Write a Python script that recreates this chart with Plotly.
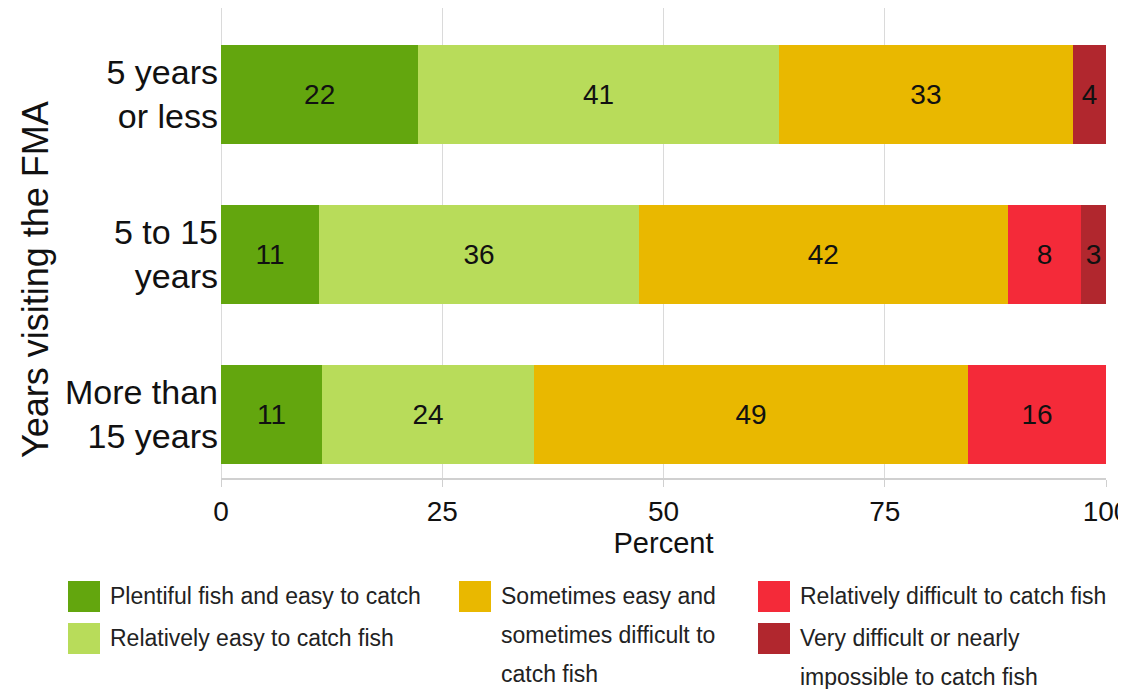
import plotly.graph_objects as go

# categories listed bottom to top
categories = ["More than<br>15 years", "5 to 15<br>years", "5 years<br>or less"]

series_names = [
    "Plentiful fish and easy to catch",
    "Relatively easy to catch fish",
    "Sometimes easy and sometimes difficult to catch fish",
    "Relatively difficult to catch fish",
    "Very difficult or nearly impossible to catch fish",
]
plentiful = [11.4, 11.1, 22.3]
relatively_easy = [24.0, 36.1, 40.7]
sometimes = [49.0, 41.7, 33.3]
relatively_difficult = [15.6, 8.3, None]
very_difficult = [None, 2.8, 3.7]

x_ticks = [0, 25, 50, 75, 100]

# legend text as wrapped in the picture
legend_lines = [
    ["Plentiful fish and easy to catch"],
    ["Relatively easy to catch fish"],
    ["Sometimes easy and", "sometimes difficult to", "catch fish"],
    ["Relatively difficult to catch fish"],
    ["Very difficult or nearly", "impossible to catch fish"],
]

colors = ["#63A60E", "#B8DC5A", "#E9B800", "#F42A39", "#B1272E"]
FONT = "Arial, Liberation Sans, sans-serif"

# page body adds an 8px offset top/left
OFF = 8
W, H = 1126 - OFF, 689 - OFF
L, R, T, B = 213, 20, 0, 211
pw, ph = W - L - R, H - T - B


def px(x):
    # screen x -> paper
    return (x - OFF - L) / pw


def py(y):
    # screen y -> paper
    return (T + ph - (y - OFF)) / ph


fig = go.Figure()
all_series = [plentiful, relatively_easy, sometimes, relatively_difficult, very_difficult]
for name, vals, col in zip(series_names, all_series, colors):
    fig.add_trace(go.Bar(
        y=categories, x=vals, name=name, orientation="h",
        marker=dict(color=col, line=dict(width=0)),
        width=0.62,
        texttemplate="%{x:.0f}", textposition="inside",
        insidetextanchor="middle", constraintext="none", textangle=0,
        textfont=dict(family=FONT, size=28, color="#111111"),
        showlegend=False,
    ))

# hand-made legend in three columns
legend_pos = [(68, 581), (68, 623), (459, 581), (758, 581), (758, 623)]
shapes = []
annotations = []
for (x0, y0), lines, col in zip(legend_pos, legend_lines, colors):
    shapes.append(dict(type="rect", xref="paper", yref="paper",
                       x0=px(x0), x1=px(x0 + 32), y0=py(y0), y1=py(y0 + 31),
                       fillcolor=col, line=dict(width=0)))
    for i, line in enumerate(lines):
        annotations.append(dict(xref="paper", yref="paper", x=px(x0 + 40), y=py(y0 + 15 + 39 * i),
                                text=line, showarrow=False, xanchor="left", yanchor="middle",
                                font=dict(family=FONT, size=23, color="#222222")))

annotations.append(dict(xref="paper", yref="paper", x=px(35), y=py(280),
                        text="Years visiting the FMA", textangle=-90, showarrow=False,
                        xanchor="center", yanchor="middle",
                        font=dict(family=FONT, size=36, color="#111111")))

fig.update_layout(
    barmode="stack",
    width=W, height=H,
    margin=dict(l=L, r=R, t=T, b=B, autoexpand=False),
    paper_bgcolor="white", plot_bgcolor="white",
    font=dict(family=FONT, color="#111111"),
    shapes=shapes, annotations=annotations,
    xaxis=dict(range=[0, 100], tickvals=x_ticks, showgrid=True, gridcolor="#DADADA", gridwidth=1,
               zeroline=True, zerolinecolor="#DADADA", zerolinewidth=1,
               showline=True, linecolor="#D0D0D0", linewidth=2, automargin=False,
               ticks="outside", ticklen=7, tickcolor="#D0D0D0", ticklabeloverflow="allow",
               tickfont=dict(size=28), title=dict(text="Percent", font=dict(size=29), standoff=4)),
    yaxis=dict(type="category", categoryorder="array", categoryarray=categories,
               range=[-0.4, 2.54], showgrid=False, zeroline=False, ticks="", automargin=False,
               tickfont=dict(size=34), ticklabelstandoff=2),
)

fig.write_html("out.html")
